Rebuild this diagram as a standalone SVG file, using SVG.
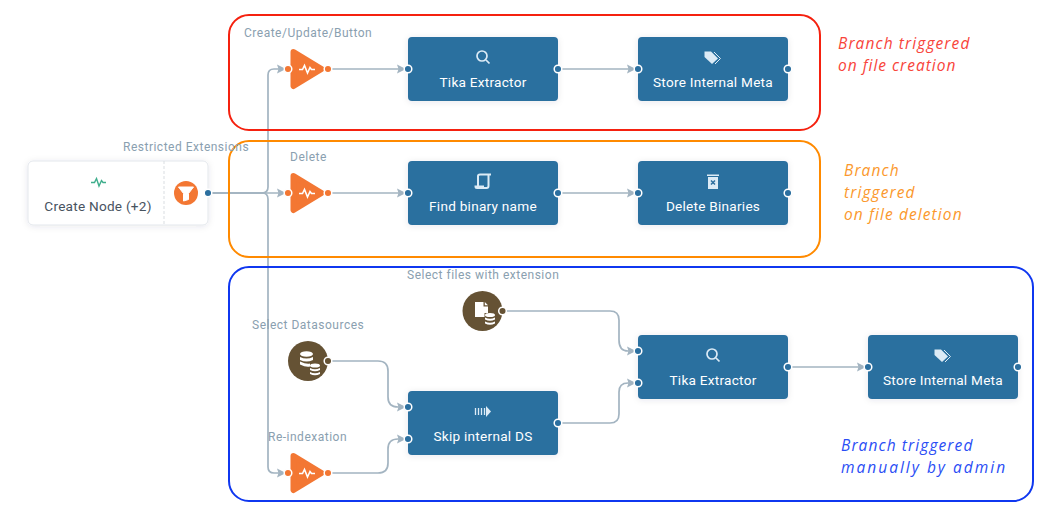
<svg xmlns="http://www.w3.org/2000/svg" width="1058" height="516" viewBox="0 0 1058 516">
<style>
.lbl{font:12px Roboto,"Liberation Sans",sans-serif;fill:#8aa0b0;letter-spacing:.5px}
.nt{font:400 13.6px Roboto,"Liberation Sans",sans-serif;fill:#fff;text-anchor:middle;letter-spacing:.25px}
.hand{font:italic 15.5px "Open Sans","DejaVu Sans",sans-serif;letter-spacing:1.1px}
.box{fill:none;stroke-width:2}
.c{fill:none;stroke:#a3b4c1;stroke-width:1.7}
.n{fill:#2c6f9f}
.pb{fill:#2c6f9f;stroke:#fff;stroke-width:1.5}
.po{fill:#f37733;stroke:#fff;stroke-width:1.5}
.pd{fill:#655234;stroke:#fff;stroke-width:1.5}
.tri{fill:#f37733;stroke:#f37733;stroke-width:6;stroke-linejoin:round}
.w{fill:none;stroke:#fff;stroke-width:1.6}
.ic{fill:#dcebf6}
.is{fill:none;stroke:#dcebf6;stroke-width:1.7}
</style>
<defs>
<marker id="a" markerUnits="userSpaceOnUse" markerWidth="10" markerHeight="10" refX="9" refY="5" orient="auto"><path d="M0 0.500L9 5L0 9.500L1.500 5Z" fill="#a3b4c1"/></marker>
<filter id="s" x="-10%" y="-20%" width="120%" height="140%"><feDropShadow dx="0" dy="1" stdDeviation="3" flood-color="#2c3e50" flood-opacity=".1"/></filter>
<g id="tr"><path class="tri" d="M293.500 -17L321.500 0L293.500 17Z"/><path class="w" d="M299 0.500H302.500L304.500 -3.500L307.500 4L310 -1.500L311.500 .5H315"/></g>
</defs>
<rect width="1058" height="516" fill="#fff"/>

<g id="connectors">
<path class="c" marker-end="url(#a)" d="M208 193H262Q268 193 268 187V75Q268 69 274 69H286"/>
<path class="c" marker-end="url(#a)" d="M208 193H286"/>
<path class="c" marker-end="url(#a)" d="M208 193H262Q268 193 268 199V467Q268 473 274 473H286"/>
<path class="c" marker-end="url(#a)" d="M328 69H406"/>
<path class="c" marker-end="url(#a)" d="M558 69H636"/>
<path class="c" marker-end="url(#a)" d="M328 193H406"/>
<path class="c" marker-end="url(#a)" d="M558 193H636"/>
<path class="c" marker-end="url(#a)" d="M502 311H610Q619 311 619 320V340Q619 351 628 351H636"/>
<path class="c" marker-end="url(#a)" d="M558 423H610Q619 423 619 414V392Q619 383 628 383H636"/>
<path class="c" marker-end="url(#a)" d="M788 367H866"/>
<path class="c" marker-end="url(#a)" d="M328 361H378Q388 361 388 371V397Q388 407 398 407H406"/>
<path class="c" marker-end="url(#a)" d="M328 473H378Q388 473 388 463V449Q388 439 398 439H406"/>
</g>

<g id="group-creation"><rect class="box" x="229" y="15" width="591" height="115" rx="20" stroke="#f5210f"/><text class="hand" x="838" y="49" fill="#f8443a">Branch triggered</text><text class="hand" x="838" y="71" fill="#f8443a" style="letter-spacing:1px">on file creation</text></g>
<g id="group-deletion"><rect class="box" x="229" y="141" width="591" height="116" rx="20" stroke="#ff8a00"/><text class="hand" x="844" y="176" fill="#fb982c">Branch</text><text class="hand" x="844" y="198" fill="#fb982c">triggered</text><text class="hand" x="844" y="220" fill="#fb982c">on file deletion</text></g>
<g id="group-manual"><rect class="box" x="229" y="267" width="804" height="234" rx="20" stroke="#0f37f0"/><text class="hand" x="841" y="451" fill="#2a4df5">Branch triggered</text><text class="hand" x="841" y="473" fill="#2a4df5" style="letter-spacing:2px">manually by admin</text></g>

<g id="node-create">
<rect x="28" y="161" width="180" height="64" rx="5" fill="#fff" stroke="#e3e7ec" filter="url(#s)"/>
<path d="M164 161V225" stroke="#d9dde1" stroke-dasharray="3 2" fill="none"/>
<path d="M91 182.500H94.500L96.500 178.500L99 186L101.500 180.500L103 182.500H106" fill="none" stroke="#3fae8c" stroke-width="1.400"/>
<text x="98" y="211" text-anchor="middle" style="font:400 13.600px Roboto,'Liberation Sans',sans-serif;fill:#48535f;letter-spacing:.25px">Create Node (+2)</text>
<circle cx="186" cy="193" r="12" fill="#f37733"/>
<path d="M178.500 187H193.500L188.500 193.500V199.500L183.500 201V193.500Z" fill="#fff" stroke="#fff" stroke-linejoin="round"/>
<circle class="pb" cx="208" cy="193" r="3.800"/>
<text class="lbl" x="123" y="151">Restricted Extensions</text>
</g>

<g id="trigger-create"><use href="#tr" y="69"/><circle class="po" cx="288" cy="69" r="3.800"/><circle class="po" cx="328" cy="69" r="3.800"/><text class="lbl" x="244" y="37">Create/Update/Button</text></g>
<g id="trigger-delete"><use href="#tr" y="193"/><circle class="po" cx="288" cy="193" r="3.800"/><circle class="po" cx="328" cy="193" r="3.800"/><text class="lbl" x="290" y="161">Delete</text></g>
<g id="trigger-reindex"><use href="#tr" y="473"/><circle class="po" cx="288" cy="473" r="3.800"/><circle class="po" cx="328" cy="473" r="3.800"/><text class="lbl" x="268" y="441">Re-indexation</text></g>

<g id="node-tika1"><rect class="n" x="408" y="37" width="150" height="64" rx="4" filter="url(#s)"/><circle class="is" cx="482" cy="56" r="5"/><path class="is" d="M486 60L489.500 63.500"/><text class="nt" x="483" y="87">Tika Extractor</text><circle class="pb" cx="408" cy="69" r="3.800"/><circle class="pb" cx="558" cy="69" r="3.800"/></g>
<g id="node-store1"><rect class="n" x="638" y="37" width="150" height="64" rx="4" filter="url(#s)"/><path class="ic" d="M704.500 51.500H711L718 58.500L712 64L704.500 57Z"/><path d="M714 52L720.500 58.500L715 64" fill="none" stroke="#dcebf6"/><text class="nt" x="713" y="87">Store Internal Meta</text><circle class="pb" cx="638" cy="69" r="3.800"/><circle class="pb" cx="788" cy="69" r="3.800"/></g>
<g id="node-find"><rect class="n" x="408" y="161" width="150" height="64" rx="4" filter="url(#s)"/><path d="M478 186V176Q478 174.500 480 174.500H491M488.500 174.500V186Q488.500 188 486.500 188H477Q475.500 188 475.500 186.500H484" fill="none" stroke="#dcebf6" stroke-width="2"/><text class="nt" x="483" y="211">Find binary name</text><circle class="pb" cx="408" cy="193" r="3.800"/><circle class="pb" cx="558" cy="193" r="3.800"/></g>
<g id="node-delete"><rect class="n" x="638" y="161" width="150" height="64" rx="4" filter="url(#s)"/><path class="ic" d="M707 174.500H719V176H707ZM708 177H718V189H708Z"/><path d="M711 180.500L715 184.500M715 180.500L711 184.500" stroke="#2c6f9f" stroke-width="1.500"/><text class="nt" x="713" y="211">Delete Binaries</text><circle class="pb" cx="638" cy="193" r="3.800"/><circle class="pb" cx="788" cy="193" r="3.800"/></g>

<g id="node-select-ext"><circle cx="482.500" cy="311" r="20" fill="#655234"/><path d="M475 302H483.500V306.500H488V313H484.500V317H475ZM484.800 302L488 305.200H484.800Z" fill="#fff"/><ellipse cx="490" cy="315" rx="5" ry="2" fill="#fff"/><path d="M485 317.500Q490 320 495 317.500V319.500Q490 322 485 319.500ZM485 321.500Q490 324 495 321.500V323.500Q490 326 485 323.500Z" fill="#fff"/><circle class="pd" cx="502.500" cy="311" r="3.800"/><text class="lbl" x="407" y="279">Select files with extension</text></g>
<g id="node-select-ds"><circle cx="308" cy="361" r="20" fill="#655234"/><ellipse cx="306.500" cy="354" rx="6.500" ry="2.800" fill="#fff"/><path d="M300 357Q306.500 360 313 357V360Q306.500 363 300 360ZM300 361.500Q306.500 364.500 310 363.500V366.500Q306 367.500 300 364.500Z" fill="#fff"/><ellipse cx="315" cy="365.500" rx="5" ry="2" fill="#fff"/><path d="M310 368Q315 370.500 320 368V370Q315 372.500 310 370ZM310 372Q315 374.500 320 372V374Q315 376.500 310 374Z" fill="#fff"/><circle class="pd" cx="328" cy="361" r="3.800"/><text class="lbl" x="252" y="329">Select Datasources</text></g>

<g id="node-skip"><rect class="n" x="408" y="391" width="150" height="64" rx="4" filter="url(#s)"/><path d="M475.500 408V415M478.500 408V415M481.500 408V415M484.500 408V415" stroke="#dcebf6" stroke-width="1.300"/><path class="ic" d="M486 406L491 411.500L486 417Z"/><text class="nt" x="483" y="441">Skip internal DS</text><circle class="pb" cx="408" cy="407" r="3.800"/><circle class="pb" cx="408" cy="439" r="3.800"/><circle class="pb" cx="558" cy="423" r="3.800"/></g>
<g id="node-tika2"><rect class="n" x="638" y="335" width="150" height="64" rx="4" filter="url(#s)"/><circle class="is" cx="712" cy="354" r="5"/><path class="is" d="M716 358L719.500 361.500"/><text class="nt" x="713" y="385">Tika Extractor</text><circle class="pb" cx="638" cy="351" r="3.800"/><circle class="pb" cx="638" cy="383" r="3.800"/><circle class="pb" cx="788" cy="367" r="3.800"/></g>
<g id="node-store2"><rect class="n" x="868" y="335" width="150" height="64" rx="4" filter="url(#s)"/><path class="ic" d="M934.500 349.500H941L948 356.500L942 362L934.500 355Z"/><path d="M944 350L950.500 356.500L945 362" fill="none" stroke="#dcebf6"/><text class="nt" x="943" y="385">Store Internal Meta</text><circle class="pb" cx="868" cy="367" r="3.800"/><circle class="pb" cx="1018" cy="367" r="3.800"/></g>
</svg>
